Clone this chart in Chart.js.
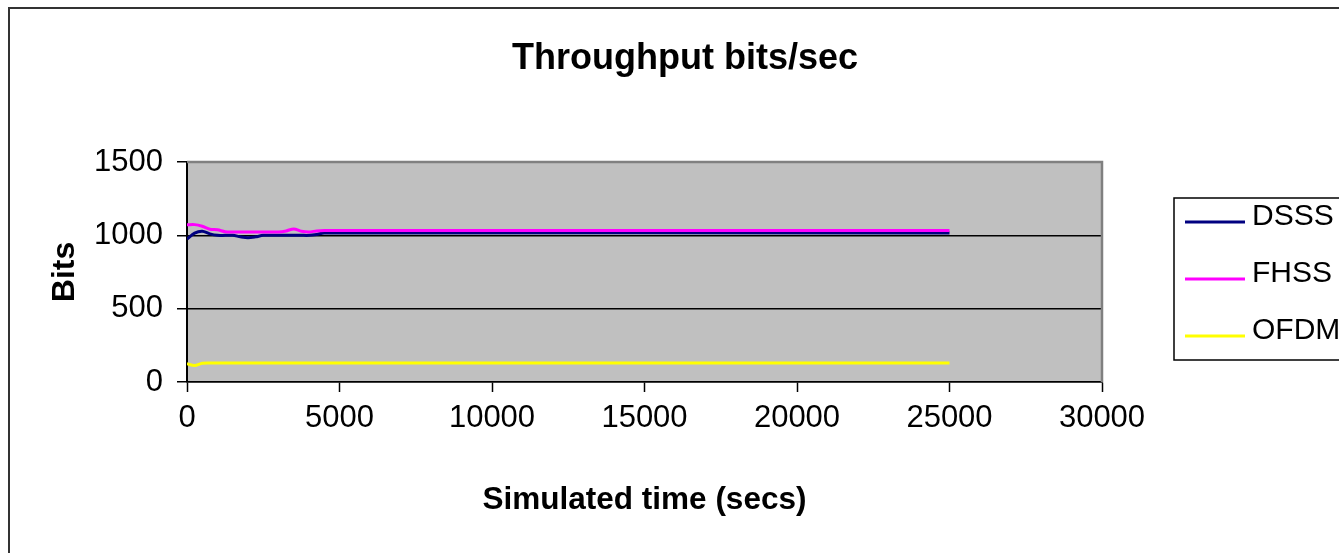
<!DOCTYPE html>
<html>
<head>
<meta charset="utf-8">
<title>Throughput bits/sec</title>
<script src="https://cdn.jsdelivr.net/npm/chart.js@4.4.0/dist/chart.umd.min.js"></script>
<style>
  body { margin: 0; background: #fff; }
  canvas { display: block; }
</style>
</head>
<body>
<canvas id="throughput" width="1339" height="553"></canvas>
<script>
// simulated time (secs) of each sample
var times = [0, 250, 500, 750, 1000, 1250, 1500, 1750, 2000, 2250, 2500, 3000, 3250, 3500, 3750, 4000, 4250, 4500, 25000];
// throughput per scheme
var dsss = [975, 1015, 1028, 1010, 1000, 1000, 1000, 990, 984, 990, 1000, 1000, 1000, 1000, 1000, 1000, 1006, 1016, 1016];
var fhss = [1072, 1073, 1062, 1042, 1038, 1025, 1023, 1023, 1023, 1023, 1023, 1023, 1030, 1044, 1028, 1023, 1030, 1033, 1033];
var ofdm = [124, 112, 128, 130, 130, 130, 130, 130, 130, 130, 130, 130, 130, 130, 130, 130, 130, 130, 130];
var yTicks = [0, 500, 1000, 1500];
var xTicks = [0, 5000, 10000, 15000, 20000, 25000, 30000];

var FONT = '"Liberation Sans", Arial, sans-serif';

function pts(vals) {
    return times.map(function(t, i) { return {x: t, y: vals[i]}; });
}

// plot background, outer frame, plot border, title and legend
var frame = {
    id: 'frame',
    beforeDraw: function(chart) {
        var c = chart.ctx, a = chart.chartArea;
        c.save();
        c.fillStyle = '#fff';
        c.fillRect(0, 0, chart.width, chart.height);
        c.fillStyle = '#c0c0c0';
        c.fillRect(a.left, a.top, a.right - a.left, a.bottom - a.top);
        c.strokeStyle = '#333';
        c.lineWidth = 2;
        c.beginPath();
        c.moveTo(9, chart.height);
        c.lineTo(9, 8);
        c.lineTo(chart.width, 8);
        c.stroke();
        c.restore();
    },
    beforeDatasetsDraw: function(chart) {
        var c = chart.ctx, a = chart.chartArea;
        c.save();
        c.strokeStyle = '#808080';
        c.lineWidth = 2.5;
        c.beginPath();
        c.moveTo(a.left, a.top);
        c.lineTo(a.right, a.top);
        c.lineTo(a.right, a.bottom);
        c.stroke();
        c.restore();
    },
    afterDraw: function(chart) {
        var c = chart.ctx;
        c.save();
        // title
        c.fillStyle = '#000';
        c.font = 'bold 36px ' + FONT;
        c.textAlign = 'center';
        c.textBaseline = 'middle';
        c.fillText('Throughput bits/sec', 685, 59);
        // legend box
        c.strokeStyle = '#000';
        c.lineWidth = 1.5;
        c.strokeRect(1174, 198, 200, 162);
        c.font = '30px ' + FONT;
        c.textAlign = 'left';
        chart.data.datasets.forEach(function(ds, i) {
            var y = 222 + i * 57;
            c.strokeStyle = ds.borderColor;
            c.lineWidth = ds.borderWidth;
            c.beginPath();
            c.moveTo(1185, y);
            c.lineTo(1245, y);
            c.stroke();
            c.fillStyle = '#000';
            c.fillText(ds.label, 1252, y - 5);
        });
        c.restore();
    }
};

new Chart(document.getElementById('throughput').getContext('2d'), {
    type: 'line',
    data: {
        datasets: [
            {label: 'DSSS', data: pts(dsss), borderColor: '#000080', borderWidth: 3, order: 3},
            {label: 'FHSS', data: pts(fhss), borderColor: '#ff00ff', borderWidth: 3, order: 2},
            {label: 'OFDM', data: pts(ofdm), borderColor: '#ffff00', borderWidth: 3, order: 1}
        ]
    },
    options: {
        responsive: false,
        animation: false,
        parsing: false,
        layout: {padding: {top: 162, left: 0, right: 237, bottom: 0}},
        elements: {
            point: {radius: 0, hoverRadius: 0},
            line: {tension: 0.3, fill: false}
        },
        plugins: {
            legend: {display: false},
            title: {display: false},
            tooltip: {enabled: false}
        },
        scales: {
            x: {
                type: 'linear',
                min: 0,
                max: 30000,
                afterBuildTicks: function(s) { s.ticks = xTicks.map(function(v) { return {value: v}; }); },
                afterFit: function(s) { s.height = 171; },
                ticks: {color: '#000', font: {family: FONT, size: 31}, padding: 8, maxRotation: 0, autoSkip: false,
                        callback: function(v) { return String(v); }},
                grid: {drawOnChartArea: false, tickLength: 10, tickColor: '#000', tickWidth: 1.5},
                border: {color: '#000', width: 1.5},
                title: {display: true, text: 'Simulated time (secs)', color: '#000',
                        font: {family: FONT, size: 31.5, weight: 'bold'}, padding: {top: 0, bottom: 34}}
            },
            y: {
                min: 0,
                max: 1500,
                afterBuildTicks: function(s) { s.ticks = yTicks.map(function(v) { return {value: v}; }); },
                afterFit: function(s) { s.width = 187; },
                ticks: {color: '#000', font: {family: FONT, size: 31}, padding: 14,
                        callback: function(v) { return String(v); }},
                grid: {
                    color: function(ctx) { return ctx.tick && ctx.tick.value === 1500 ? '#808080' : '#000'; },
                    lineWidth: 1.5, tickLength: 10, tickColor: '#000', tickWidth: 1.5
                },
                border: {color: '#000', width: 2},
                title: {display: true, text: 'Bits', color: '#000',
                        font: {family: FONT, size: 32, weight: 'bold'}, padding: {top: 46, bottom: 0}}
            }
        }
    },
    plugins: [frame]
});
</script>
</body>
</html>
